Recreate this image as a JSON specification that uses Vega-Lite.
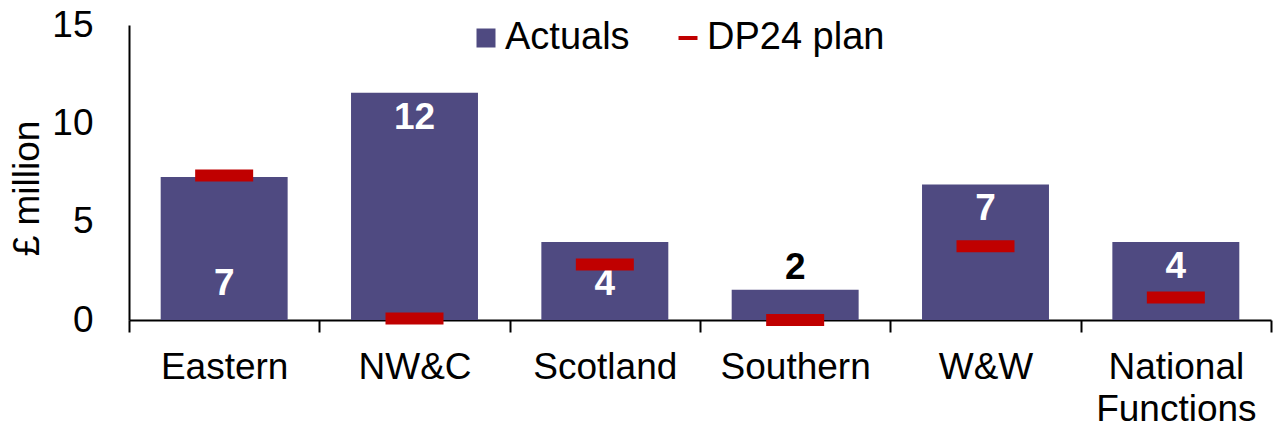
{
  "$schema": "https://vega.github.io/schema/vega-lite/v6.json",
  "width": 1142,
  "height": 295,
  "autosize": {"type": "none"},
  "padding": {"left": 129, "top": 25, "right": 6, "bottom": 110},
  "background": "white",
  "config": {"font": "Liberation Sans", "view": {"stroke": null}},
  "data": {
    "values": [
      {"region": "Eastern", "actual": 7.27, "plan": 7.35},
      {"region": "NW&C", "actual": 11.55, "plan": 0.07},
      {"region": "Scotland", "actual": 3.96, "plan": 2.82},
      {"region": "Southern", "actual": 1.54, "plan": 0.0},
      {"region": "W&W", "actual": 6.89, "plan": 3.75},
      {"region": "National Functions", "actual": 3.96, "plan": 1.15}
    ]
  },
  "encoding": {
    "x": {
      "field": "region",
      "type": "nominal",
      "sort": null,
      "scale": {"paddingInner": 0, "paddingOuter": 0},
      "axis": {
        "title": null,
        "tickBand": "extent",
        "domainColor": "black",
        "domainWidth": 2,
        "tickColor": "black",
        "tickWidth": 2,
        "tickSize": 12,
        "labelFontSize": 37,
        "labelColor": "black",
        "labelAngle": 0,
        "labelPadding": 17,
        "labelLineHeight": 42,
        "labelExpr": "datum.label == 'National Functions' ? ['National', 'Functions'] : datum.label"
      }
    }
  },
  "layer": [
    {
      "mark": {"type": "bar", "width": {"band": 0.667}},
      "encoding": {
        "y": {
          "field": "actual",
          "type": "quantitative",
          "scale": {"domain": [0, 15], "nice": false},
          "axis": {
            "values": [0, 5, 10, 15],
            "ticks": false,
            "grid": false,
            "domainColor": "black",
            "domainWidth": 2,
            "labelFontSize": 37,
            "labelColor": "black",
            "labelPadding": 36,
            "title": "£ million",
            "titleFontSize": 37,
            "titleFontWeight": "normal",
            "titleColor": "black",
            "titleX": -102,
            "titleY": 163,
            "titleAngle": -90,
            "titleAlign": "center",
            "titleBaseline": "middle"
          }
        },
        "color": {
          "datum": "Actuals",
          "scale": {"domain": ["Actuals", "DP24 plan"], "range": ["#4F4A81", "#C00000"]},
          "legend": {
            "orient": "none",
            "legendX": 338,
            "legendY": -6,
            "direction": "horizontal",
            "title": null,
            "padding": 0,
            "labelFontSize": 38,
            "labelColor": "black",
            "labelLimit": 0,
            "labelOffset": 0,
            "symbolSize": 361,
            "symbolType": "square",
            "columnPadding": 39,
            "symbolOpacity": 1,
            "encode": {
              "symbols": {
                "update": {
                  "shape": [{"test": "datum.value === 'DP24 plan'", "value": "stroke"}, {"value": "square"}],
                  "stroke": [{"test": "datum.value === 'DP24 plan'", "value": "#C00000"}, {"value": "transparent"}],
                  "strokeWidth": {"value": 4}
                }
              }
            }
          }
        }
      }
    },
    {
      "transform": [{"filter": "datum.region == 'NW&C' || datum.region == 'W&W' || datum.region == 'National Functions'"}],
      "mark": {"type": "text", "baseline": "middle", "dy": 25, "color": "white", "fontWeight": "bold", "fontSize": 37},
      "encoding": {
        "y": {"field": "actual", "type": "quantitative"},
        "text": {"field": "actual", "type": "quantitative", "format": ".0f"}
      }
    },
    {
      "transform": [{"filter": "datum.region == 'Eastern' || datum.region == 'Scotland'"}],
      "mark": {"type": "text", "baseline": "middle", "dy": -36, "color": "white", "fontWeight": "bold", "fontSize": 37},
      "encoding": {
        "y": {"datum": 0, "type": "quantitative"},
        "text": {"field": "actual", "type": "quantitative", "format": ".0f"}
      }
    },
    {
      "transform": [{"filter": "datum.region == 'Southern'"}],
      "mark": {"type": "text", "baseline": "middle", "dy": -22, "color": "black", "fontWeight": "bold", "fontSize": 37},
      "encoding": {
        "y": {"field": "actual", "type": "quantitative"},
        "text": {"field": "actual", "type": "quantitative", "format": ".0f"}
      }
    },
    {
      "mark": {"type": "tick", "size": 58, "thickness": 12, "opacity": 1},
      "encoding": {
        "y": {"field": "plan", "type": "quantitative"},
        "color": {"datum": "DP24 plan"}
      }
    }
  ]
}
